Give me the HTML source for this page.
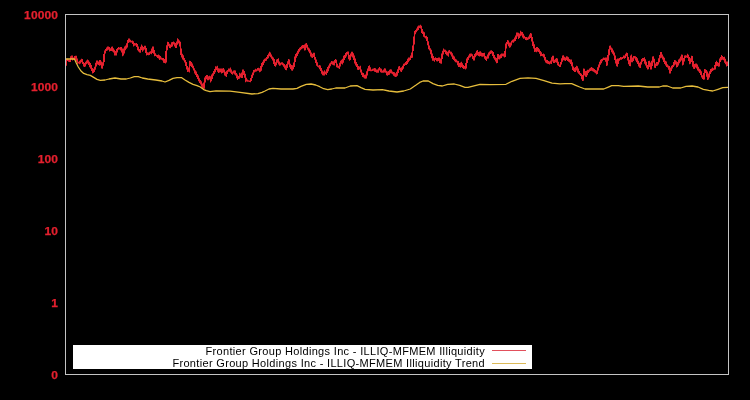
<!DOCTYPE html>
<html><head><meta charset="utf-8"><title>chart</title>
<style>
html,body{margin:0;padding:0;background:#000;}
body{width:750px;height:400px;position:relative;overflow:hidden;font-family:"Liberation Sans",sans-serif;}
.yl{will-change:transform;position:absolute;left:0;width:58px;transform:scaleX(1.09);transform-origin:100% 50%;height:16px;line-height:16px;text-align:right;color:#e4202e;font-weight:bold;font-size:11px;letter-spacing:0.1px;-webkit-text-stroke:0.25px #e4202e;}
.plot{position:absolute;left:65px;top:14px;width:662px;height:359px;border:1px solid #c4c4c4;}
.legend{position:absolute;left:73px;top:345px;width:459px;height:24px;background:#fff;}
.lt{will-change:transform;position:absolute;right:47px;width:420px;text-align:right;color:#000;font-size:11px;height:12px;line-height:12px;white-space:nowrap;letter-spacing:0.325px;}
svg{position:absolute;left:0;top:0;}
</style></head><body>
<div class="yl" style="top:7px">10000</div><div class="yl" style="top:79px">1000</div><div class="yl" style="top:151px">100</div><div class="yl" style="top:223px">10</div><div class="yl" style="top:295px">1</div><div class="yl" style="top:367px">0</div>
<div class="legend">
<div class="lt" style="top:0px">Frontier Group Holdings Inc - ILLIQ-MFMEM Illiquidity</div>
<div class="lt" style="top:12px">Frontier Group Holdings Inc - ILLIQ-MFMEM Illiquidity Trend</div>
</div>
<svg width="750" height="400" viewBox="0 0 750 400">
<path fill="#e4202e" stroke="none" d="M66,59.1V59.1H67V58.8H68V59.2H69V59.6H70V56.3H71V55.5H72V55.5H73V57.4H74V55.9H75V55.8H76V55.8H77V58.4H78V61.7H79V60.8H80V59.8H81V58.8H82V58.9H83V61.9H84V63.0H85V61.8H86V60.5H87V59.6H88V60.3H89V61.7H90V63.1H91V65.0H92V68.1H93V68.8H94V66.7H95V62.8H96V60.4H97V60.6H98V61.5H99V59.9H100V59.9H101V61.5H102V62.3H103V53.9H104V50.5H105V49.1H106V47.4H107V46.5H108V46.4H109V47.1H110V48.2H111V46.8H112V46.4H113V48.3H114V49.7H115V51.0H116V49.1H117V47.9H118V47.1H119V47.5H120V47.1H121V47.0H122V48.6H123V48.6H124V46.6H125V45.6H126V43.3H127V40.0H128V38.5H129V38.4H130V39.8H131V40.7H132V40.4H133V41.2H134V43.1H135V43.2H136V43.1H137V43.9H138V46.4H139V48.9H140V46.7H141V44.6H142V45.7H143V47.0H144V45.8H145V45.8H146V48.0H147V52.3H148V52.6H149V51.7H150V51.3H151V48.5H152V46.4H153V46.4H154V49.9H155V53.2H156V54.8H157V54.9H158V54.5H159V55.3H160V56.1H161V57.6H162V58.0H163V58.0H164V58.9H165V50.9H166V45.3H167V41.7H168V41.9H169V43.7H170V44.5H171V42.3H172V42.1H173V41.4H174V42.2H175V43.1H176V41.5H177V38.3H178V39.2H179V40.4H180V41.7H181V48.6H182V53.8H183V55.3H184V58.0H185V60.0H186V62.1H187V65.9H188V67.6H189V60.8H190V61.0H191V62.1H192V63.6H193V65.8H194V68.3H195V70.2H196V71.4H197V74.0H198V75.6H199V78.2H200V80.0H201V81.3H202V83.6H203V82.6H204V77.6H205V76.1H206V74.9H207V74.9H208V76.2H209V75.7H210V76.2H211V74.6H212V73.2H213V70.9H214V69.0H215V66.3H216V66.5H217V65.8H218V68.2H219V68.6H220V68.4H221V68.4H222V68.6H223V68.1H224V69.4H225V71.7H226V70.7H227V69.9H228V68.4H229V68.5H230V67.5H231V69.4H232V71.6H233V70.5H234V70.3H235V70.5H236V73.1H237V74.4H238V75.9H239V72.7H240V73.6H241V72.6H242V69.4H243V69.5H244V71.0H245V73.7H246V77.8H247V79.6H248V80.3H249V80.5H250V77.9H251V74.7H252V72.4H253V69.9H254V69.7H255V68.8H256V69.2H257V67.9H258V67.7H259V68.2H260V66.1H261V63.0H262V61.8H263V59.7H264V58.8H265V58.2H266V57.0H267V55.0H268V53.5H269V51.8H270V52.6H271V54.6H272V56.5H273V57.6H274V59.0H275V62.3H276V59.6H277V59.0H278V58.3H279V61.4H280V62.7H281V62.2H282V62.3H283V63.2H284V64.1H285V65.2H286V64.1H287V61.2H288V59.1H289V59.4H290V63.7H291V65.1H292V65.3H293V62.6H294V56.4H295V53.9H296V52.7H297V50.7H298V49.0H299V47.7H300V47.0H301V45.7H302V45.0H303V45.0H304V44.6H305V43.4H306V43.1H307V44.8H308V47.5H309V48.5H310V50.3H311V52.5H312V53.8H313V52.7H314V52.8H315V56.9H316V59.4H317V62.3H318V65.5H319V65.0H320V65.5H321V68.0H322V70.4H323V71.4H324V70.2H325V71.5H326V69.2H327V67.1H328V65.4H329V63.4H330V62.5H331V61.0H332V61.2H333V61.3H334V60.1H335V59.1H336V59.8H337V63.8H338V65.8H339V62.7H340V60.8H341V59.7H342V58.7H343V55.8H344V55.1H345V53.0H346V51.9H347V51.4H348V51.6H349V55.0H350V53.4H351V51.7H352V51.8H353V53.2H354V55.6H355V58.4H356V62.0H357V64.0H358V66.1H359V66.6H360V65.7H361V69.4H362V72.5H363V73.0H364V74.8H365V74.6H366V71.3H367V68.4H368V65.9H369V65.3H370V67.3H371V69.5H372V68.8H373V68.5H374V68.1H375V68.2H376V69.4H377V69.6H378V68.2H379V66.9H380V68.3H381V68.8H382V70.5H383V69.6H384V68.3H385V68.4H386V70.8H387V71.4H388V71.1H389V69.8H390V69.2H391V69.4H392V71.5H393V71.9H394V72.3H395V73.3H396V71.8H397V69.3H398V66.5H399V66.0H400V67.8H401V67.3H402V65.7H403V63.8H404V63.3H405V62.0H406V61.1H407V58.8H408V57.6H409V57.4H410V55.4H411V52.5H412V45.6H413V36.4H414V30.9H415V29.9H416V28.5H417V26.4H418V25.4H419V25.4H420V24.7H421V25.7H422V28.9H423V31.6H424V32.2H425V35.9H426V35.8H427V37.1H428V41.2H429V45.4H430V48.2H431V49.8H432V53.4H433V56.1H434V58.0H435V57.2H436V57.9H437V58.1H438V57.6H439V57.6H440V58.5H441V53.4H442V50.7H443V48.5H444V49.5H445V49.7H446V50.7H447V51.7H448V50.4H449V49.9H450V51.4H451V51.7H452V53.3H453V55.6H454V56.6H455V58.8H456V59.5H457V60.7H458V61.1H459V63.1H460V62.6H461V61.7H462V63.2H463V65.1H464V66.0H465V63.0H466V58.6H467V56.9H468V55.5H469V53.8H470V53.5H471V53.4H472V54.2H473V55.9H474V54.0H475V52.7H476V50.8H477V50.0H478V51.9H479V51.4H480V51.2H481V52.4H482V53.1H483V52.9H484V52.7H485V56.0H486V56.6H487V54.4H488V52.6H489V51.4H490V50.6H491V50.3H492V51.0H493V52.1H494V54.9H495V57.2H496V58.1H497V53.9H498V53.9H499V55.2H500V54.3H501V53.6H502V53.4H503V53.5H504V51.1H505V43.4H506V41.9H507V40.1H508V40.6H509V42.6H510V42.5H511V40.7H512V39.7H513V39.3H514V37.6H515V35.5H516V32.6H517V32.5H518V32.7H519V33.5H520V30.7H521V31.7H522V31.9H523V33.8H524V35.7H525V37.0H526V37.0H527V37.6H528V36.5H529V34.4H530V33.1H531V33.6H532V36.9H533V41.6H534V44.3H535V48.0H536V47.0H537V47.0H538V48.1H539V49.3H540V51.1H541V52.2H542V54.1H543V53.6H544V54.3H545V57.0H546V59.7H547V59.9H548V61.1H549V61.6H550V60.5H551V57.3H552V55.8H553V55.8H554V59.7H555V58.7H556V58.0H557V58.4H558V61.8H559V64.4H560V62.0H561V58.2H562V55.4H563V55.3H564V56.8H565V57.6H566V56.3H567V56.4H568V57.3H569V59.0H570V59.4H571V59.5H572V62.3H573V66.6H574V67.8H575V67.1H576V65.7H577V66.2H578V68.6H579V70.9H580V73.0H581V73.8H582V75.1H583V68.6H584V68.7H585V70.9H586V70.7H587V69.8H588V69.8H589V68.6H590V67.8H591V66.9H592V67.8H593V68.2H594V69.0H595V70.1H596V70.5H597V67.3H598V64.4H599V61.7H600V59.8H601V58.9H602V58.6H603V57.4H604V57.8H605V57.5H606V57.5H607V55.1H608V49.3H609V45.8H610V45.6H611V47.4H612V48.5H613V50.6H614V52.4H615V55.6H616V59.3H617V58.5H618V58.5H619V58.0H620V56.9H621V57.2H622V57.1H623V55.6H624V55.4H625V53.8H626V52.5H627V53.1H628V56.9H629V59.7H630V55.5H631V54.5H632V57.6H633V56.1H634V56.1H635V56.3H636V57.1H637V58.3H638V60.7H639V62.8H640V61.7H641V58.9H642V57.9H643V57.9H644V57.2H645V59.3H646V61.8H647V65.0H648V60.9H649V60.8H650V62.5H651V60.8H652V56.5H653V56.3H654V58.7H655V63.4H656V62.1H657V62.1H658V58.2H659V55.0H660V51.9H661V51.9H662V54.5H663V56.5H664V57.8H665V60.8H666V61.4H667V64.2H668V65.5H669V65.9H670V67.5H671V65.8H672V64.9H673V61.9H674V59.9H675V60.3H676V61.3H677V62.1H678V59.6H679V58.6H680V56.4H681V54.6H682V54.7H683V57.9H684V55.5H685V55.2H686V55.5H687V53.8H688V54.8H689V57.0H690V58.3H691V55.8H692V55.9H693V60.9H694V63.9H695V63.4H696V63.4H697V64.4H698V66.8H699V68.8H700V69.6H701V71.2H702V75.2H703V73.0H704V69.0H705V69.2H706V70.0H707V71.5H708V73.4H709V71.2H710V69.1H711V68.6H712V67.5H713V68.2H714V64.9H715V61.9H716V60.8H717V61.9H718V62.7H719V58.4H720V57.0H721V54.9H722V56.1H723V56.9H724V56.7H725V58.8H726V61.5H727V61.4H728V65.9H727V66.5H726V64.2H725V62.7H724V60.2H723V59.7H722V60.2H721V61.9H720V66.4H719V66.7H718V65.9H717V66.2H716V69.4H715V69.7H714V70.2H713V70.9H712V72.2H711V74.1H710V77.6H709V79.6H708V80.0H707V76.7H706V73.1H705V79.4H704V79.7H703V79.1H702V77.5H701V75.0H700V73.0H699V71.5H698V70.6H697V68.5H696V67.5H695V69.0H694V68.7H693V66.7H692V62.0H691V63.8H690V64.2H689V61.0H688V58.1H687V57.6H686V58.0H685V61.6H684V64.7H683V65.4H682V60.5H681V61.8H680V63.2H679V65.4H678V66.9H677V67.4H676V64.5H675V65.6H674V67.0H673V68.5H672V70.9H671V73.6H670V73.5H669V69.8H668V67.4H667V67.1H666V65.6H665V63.9H664V62.0H663V59.6H662V57.7H661V58.2H660V62.2H659V64.6H658V65.7H657V65.9H656V68.1H655V67.8H654V62.6H653V65.9H652V69.6H651V69.6H650V67.1H649V69.2H648V69.5H647V67.8H646V65.5H645V63.8H644V60.9H643V61.7H642V64.6H641V67.9H640V67.7H639V66.6H638V63.9H637V62.2H636V60.5H635V58.5H634V60.9H633V62.2H632V62.2H631V66.3H630V66.1H629V64.3H628V60.6H627V56.2H626V58.1H625V58.7H624V58.3H623V59.0H622V59.7H621V59.7H620V60.8H619V63.9H618V66.7H617V66.3H616V63.4H615V60.0H614V55.6H613V53.7H612V52.3H611V49.7H610V55.2H609V60.8H608V65.4H607V65.9H606V61.8H605V59.9H604V60.0H603V61.3H602V63.2H601V64.7H600V67.5H599V70.6H598V74.0H597V74.5H596V73.2H595V72.6H594V71.8H593V71.3H592V70.8H591V70.9H590V71.7H589V73.1H588V75.2H587V77.1H586V76.8H585V75.4H584V80.8H583V81.0H582V79.3H581V76.0H580V74.8H579V73.8H578V72.4H577V70.4H576V72.1H575V72.0H574V71.0H573V70.1H572V66.2H571V63.9H570V62.6H569V61.7H568V61.0H567V59.9H566V61.0H565V60.5H564V60.3H563V61.7H562V64.4H561V67.0H560V67.0H559V66.0H558V65.2H557V62.7H556V62.3H555V63.1H554V62.9H553V61.4H552V64.0H551V63.8H550V64.4H549V63.9H548V63.7H547V63.2H546V62.5H545V60.4H544V57.6H543V56.3H542V56.0H541V56.2H540V53.7H539V52.1H538V51.5H537V52.2H536V51.7H535V52.0H534V48.4H533V45.9H532V41.6H531V38.0H530V38.9H529V39.5H528V39.9H527V40.3H526V39.9H525V38.6H524V38.8H523V37.4H522V35.5H521V36.3H520V38.0H519V39.1H518V36.5H517V39.1H516V41.0H515V41.5H514V42.7H513V42.5H512V45.4H511V47.2H510V47.8H509V46.2H508V44.2H507V48.4H506V57.0H505V57.5H504V56.5H503V56.2H502V58.1H501V58.6H500V59.5H499V59.2H498V63.0H497V63.2H496V61.4H495V59.8H494V58.3H493V56.1H492V53.5H491V54.0H490V55.4H489V58.4H488V58.8H487V60.9H486V60.0H485V58.8H484V56.4H483V56.8H482V56.5H481V56.1H480V56.4H479V56.0H478V55.3H477V55.7H476V57.2H475V60.4H474V60.4H473V59.0H472V56.3H471V57.3H470V57.8H469V60.1H468V62.9H467V68.5H466V69.4H465V68.7H464V69.1H463V67.9H462V66.9H461V67.7H460V67.1H459V67.1H458V65.3H457V62.6H456V62.2H455V61.3H454V60.0H453V59.1H452V56.5H451V54.6H450V53.2H449V56.7H448V55.7H447V55.3H446V54.1H445V52.1H444V54.4H443V59.0H442V63.7H441V63.6H440V63.1H439V61.0H438V61.4H437V61.3H436V60.1H435V61.7H434V60.8H433V60.7H432V58.2H431V54.2H430V50.4H429V49.3H428V45.2H427V41.0H426V38.5H425V37.6H424V36.8H423V34.1H422V33.1H421V28.6H420V28.1H419V30.0H418V30.7H417V32.2H416V34.2H415V44.5H414V51.0H413V57.8H412V58.1H411V60.1H410V60.7H409V62.3H408V63.9H407V65.0H406V65.1H405V66.0H404V68.7H403V70.2H402V72.0H401V71.4H400V70.0H399V73.1H398V75.8H397V76.8H396V77.1H395V76.4H394V75.7H393V74.2H392V73.4H391V73.2H390V74.8H389V75.1H388V75.7H387V75.3H386V72.7H385V72.5H384V72.7H383V72.7H382V72.7H381V72.2H380V70.6H379V72.7H378V72.8H377V72.8H376V71.9H375V71.7H374V70.8H373V71.0H372V71.3H371V71.3H370V71.1H369V71.3H368V75.4H367V78.5H366V78.8H365V78.5H364V77.5H363V76.9H362V75.0H361V72.6H360V69.5H359V69.9H358V69.7H357V67.0H356V65.6H355V63.5H354V60.1H353V57.5H352V56.5H351V59.9H350V60.8H349V59.2H348V54.5H347V56.4H346V58.0H345V59.9H344V62.8H343V64.6H342V63.8H341V66.5H340V68.9H339V68.2H338V67.7H337V67.3H336V63.0H335V65.6H334V65.3H333V64.8H332V64.2H331V66.3H330V68.3H329V71.2H328V72.9H327V75.0H326V74.3H325V75.4H324V75.4H323V75.3H322V73.8H321V71.1H320V69.3H319V67.4H318V66.7H317V65.7H316V63.0H315V59.7H314V57.1H313V58.0H312V57.6H311V56.4H310V53.3H309V51.6H308V49.8H307V47.7H306V50.2H305V50.5H304V48.3H303V48.6H302V49.3H301V50.2H300V51.8H299V53.7H298V56.1H297V57.8H296V62.0H295V67.0H294V69.2H293V70.8H292V70.5H291V69.1H290V67.2H289V64.5H288V68.1H287V70.3H286V70.0H285V68.5H284V66.8H283V65.2H282V64.6H281V65.5H280V65.8H279V64.6H278V62.7H277V65.3H276V66.8H275V66.1H274V63.9H273V60.4H272V58.8H271V57.2H270V56.3H269V58.3H268V58.9H267V60.7H266V61.0H265V62.8H264V64.9H263V66.8H262V70.7H261V71.8H260V72.2H259V70.8H258V70.7H257V71.4H256V71.8H255V72.6H254V75.3H253V78.1H252V80.9H251V82.2H250V82.0H249V81.8H248V81.8H247V81.5H246V82.2H245V77.7H244V75.1H243V78.0H242V78.0H241V77.5H240V78.7H239V79.1H238V80.0H237V78.3H236V75.4H235V74.6H234V73.5H233V74.7H232V74.0H231V72.8H230V71.8H229V71.8H228V74.1H227V76.9H226V76.3H225V75.5H224V72.5H223V72.9H222V73.5H221V72.2H220V72.6H219V72.9H218V71.8H217V70.1H216V72.2H215V73.9H214V75.7H213V79.0H212V81.3H211V82.4H210V79.5H209V80.2H208V80.3H207V79.2H206V82.4H205V88.8H204V88.7H203V88.7H202V86.7H201V84.6H200V83.0H199V81.3H198V79.0H197V77.1H196V75.0H195V73.4H194V70.5H193V68.3H192V67.0H191V65.9H190V72.4H189V71.8H188V72.0H187V69.4H186V65.9H185V62.6H184V60.5H183V59.4H182V57.6H181V54.9H180V46.4H179V43.4H178V44.8H177V48.1H176V48.1H175V46.5H174V44.5H173V46.5H172V47.1H171V48.2H170V48.1H169V46.2H168V50.2H167V62.5H166V63.5H165V63.1H164V62.8H163V60.6H162V59.7H161V59.4H160V59.9H159V58.5H158V58.0H157V56.7H156V56.0H155V56.2H154V53.8H153V52.9H152V54.3H151V53.8H150V54.9H149V55.2H148V54.9H147V55.4H146V53.1H145V49.4H144V50.6H143V51.7H142V50.0H141V52.8H140V52.6H139V51.6H138V50.3H137V47.1H136V45.5H135V45.7H134V46.6H133V43.9H132V42.5H131V42.5H130V42.3H129V43.0H128V47.4H127V48.7H126V50.3H125V53.5H124V55.5H123V56.3H122V52.6H121V50.5H120V49.5H119V49.7H118V52.6H117V55.6H116V55.5H115V55.6H114V52.6H113V51.5H112V50.9H111V51.1H110V51.6H109V49.7H108V50.4H107V51.1H106V53.6H105V61.9H104V65.8H103V68.8H102V68.4H101V65.3H100V65.7H99V65.1H98V64.5H97V66.6H96V69.7H95V71.9H94V73.1H93V73.5H92V70.9H91V68.8H90V67.2H89V64.9H88V63.5H87V64.3H86V66.4H85V66.9H84V66.6H83V64.1H82V62.2H81V63.4H80V64.2H79V63.6H78V63.8H77V61.7H76V59.8H75V60.1H74V59.8H73V60.6H72V59.1H71V62.0H70V62.1H69V61.7H68V61.1H67V65.7H66Z"/>
<polyline fill="none" stroke="#e6bd3c" stroke-width="1.28" stroke-linejoin="round" points="66.0,59.0 74.5,59.0 76.3,63.0 78.3,67.0 81.0,71.0 83.7,73.4 87.0,74.6 90.3,75.4 93.7,77.4 97.0,79.4 100.3,80.3 105.0,80.0 109.0,79.0 115.0,78.0 121.0,79.0 126.3,79.0 130.3,78.0 134.3,76.6 138.3,76.6 142.3,78.0 147.7,79.0 155.7,80.0 162.0,81.0 165.0,82.0 169.0,80.4 173.0,78.4 177.0,77.6 181.7,77.7 185.0,80.0 189.0,82.4 193.0,84.3 197.0,85.6 200.3,87.0 203.7,89.6 206.3,90.7 210.0,91.6 216.0,90.8 230.0,91.2 240.0,92.4 252.0,94.0 258.0,93.6 262.0,92.3 265.0,91.0 269.0,89.0 273.0,88.3 281.0,89.0 293.0,89.0 297.0,88.3 301.0,86.4 306.3,84.4 311.0,84.0 315.7,85.0 319.7,86.7 323.7,88.7 327.7,89.7 331.7,89.0 335.7,88.0 345.0,88.0 350.3,86.0 357.0,85.7 361.0,87.6 365.0,89.3 373.0,90.0 382.3,89.7 389.0,91.0 397.0,92.0 403.7,91.0 410.3,89.0 415.7,85.3 419.7,82.4 423.0,81.0 428.3,81.0 433.0,83.6 437.7,85.3 442.3,86.0 447.7,84.4 454.3,84.0 459.7,85.3 465.0,87.3 468.0,87.3 474.0,85.8 480.0,84.3 490.0,84.6 506.0,84.3 512.0,81.3 520.0,78.3 528.0,77.8 536.0,78.3 544.0,80.6 552.0,83.2 560.0,83.9 565.0,83.7 571.7,83.7 575.7,85.3 579.7,87.0 585.0,89.0 591.7,89.0 603.7,89.0 607.7,87.3 611.7,85.7 618.3,85.7 623.7,86.4 638.3,86.0 647.7,87.0 659.3,87.0 662.7,86.0 667.3,86.0 672.7,88.0 680.7,88.0 686.0,86.4 692.0,86.0 698.0,87.0 703.3,89.3 708.7,90.4 712.7,91.0 718.0,89.3 722.7,87.7 728.0,87.3"/>
<line x1="492" y1="350.5" x2="526" y2="350.5" stroke="#e2505c" stroke-width="1" shape-rendering="crispEdges"/>
<line x1="492" y1="363.5" x2="526" y2="363.5" stroke="#dcba58" stroke-width="1" shape-rendering="crispEdges"/>
</svg>
<div class="plot"></div>
</body></html>
